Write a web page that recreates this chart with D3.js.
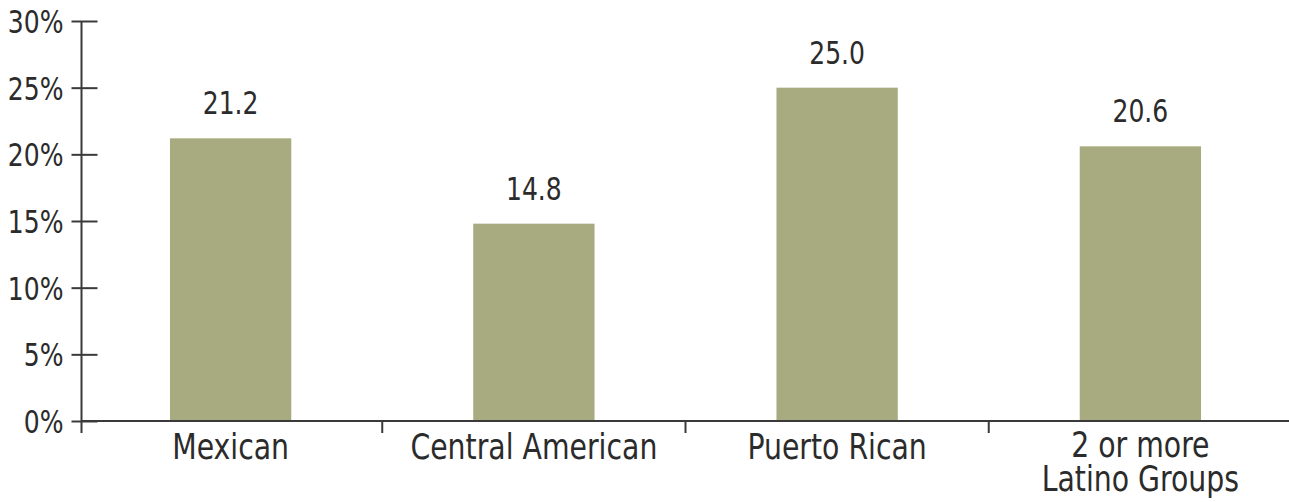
<!DOCTYPE html>
<html>
<head>
<meta charset="utf-8">
<script src="https://cdn.jsdelivr.net/npm/d3@7"></script>
<style>
  html, body { margin: 0; padding: 0; background: #fff; }
  svg { display: block; }
  text { font-family: "DejaVu Sans Condensed", "DejaVu Sans", sans-serif; font-stretch: condensed; fill: #2b2b2b; }
</style>
</head>
<body>
<svg id="chart" width="1289" height="502"></svg>
<script>
const categories = [["Mexican"], ["Central American"], ["Puerto Rican"], ["2 or more", "Latino Groups"]];
const values = [21.2, 14.8, 25.0, 20.6];
const valueLabels = ["21.2", "14.8", "25.0", "20.6"];
const yTicks = [0, 5, 10, 15, 20, 25, 30];
const yTickLabels = ["0%", "5%", "10%", "15%", "20%", "25%", "30%"];

const svg = d3.select("#chart");
const keys = categories.map(c => c.join(" "));

const x = d3.scaleBand().domain(keys).range([79, 1292]).paddingInner(0.6).paddingOuter(0.3);
const y = d3.scaleLinear().domain([0, 30]).range([421, 21]);
const axisX = 81.5;
const axisColor = "#3a3a3a";
const numScale = 0.87, catScale = 0.9;

// bars
svg.selectAll("rect.bar").data(values).join("rect")
  .attr("class", "bar")
  .attr("x", (d, i) => x(keys[i]))
  .attr("width", x.bandwidth())
  .attr("y", d => y(d))
  .attr("height", d => y(0) - y(d))
  .attr("fill", "#a8aa80");

// value labels
svg.selectAll("text.val").data(values).join("text")
  .attr("class", "val")
  .attr("transform", (d, i) => `translate(${x(keys[i]) + x.bandwidth() / 2},${y(d) - 24}) scale(${numScale},1)`)
  .attr("text-anchor", "middle")
  .attr("font-size", 32)
  .text((d, i) => valueLabels[i]);

// y axis
const yAxis = d3.axisLeft(y).tickValues(yTicks).tickFormat((d, i) => yTickLabels[i]).tickSize(0);
const gy = svg.append("g").attr("transform", `translate(${axisX},0)`).call(yAxis);
gy.attr("font-family", null).attr("font-size", null);
gy.select(".domain").remove();
gy.selectAll(".tick text")
  .attr("x", 0).attr("dy", "0.36em")
  .attr("transform", `translate(-18,0) scale(${numScale},1)`)
  .attr("font-size", 32).attr("fill", "#2b2b2b");
gy.selectAll(".tick").append("line")
  .attr("x1", -10).attr("x2", 16).attr("stroke", axisColor).attr("stroke-width", 2);
gy.append("line").attr("x1", 0).attr("x2", 0).attr("y1", y(30)).attr("y2", y(0) + 12)
  .attr("stroke", axisColor).attr("stroke-width", 2);

// x axis
svg.append("line").attr("x1", axisX).attr("x2", 1289).attr("y1", y(0)).attr("y2", y(0))
  .attr("stroke", axisColor).attr("stroke-width", 2);
const step = x.step();
const bounds = keys.slice(1).map(k => x(k) - step * x.paddingOuter());
svg.selectAll("line.xt").data(bounds).join("line")
  .attr("class", "xt")
  .attr("x1", d => d).attr("x2", d => d)
  .attr("y1", y(0)).attr("y2", y(0) + 12)
  .attr("stroke", axisColor).attr("stroke-width", 2);

// category labels
const cl = svg.selectAll("text.cat").data(categories).join("text")
  .attr("class", "cat")
  .attr("text-anchor", "middle")
  .attr("font-size", 35)
  .attr("transform", (d, i) => `translate(${x(keys[i]) + x.bandwidth() / 2},${d.length > 1 ? 457 : 459}) scale(${catScale},1)`);
cl.selectAll("tspan").data(d => d).join("tspan")
  .attr("x", 0)
  .attr("dy", (d, j) => j === 0 ? 0 : 34)
  .text(d => d);
</script>
</body>
</html>
